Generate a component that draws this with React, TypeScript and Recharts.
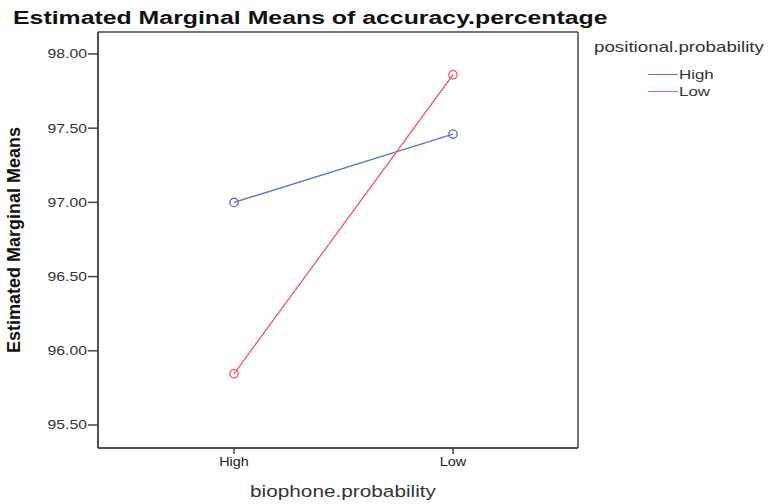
import { LineChart, Line, XAxis, YAxis, CartesianGrid } from 'recharts';

const categories = ['High', 'Low'];
const highSeries = [97.0, 97.46];
const lowSeries = [95.845, 97.86];
const yTicks = [95.5, 96.0, 96.5, 97.0, 97.5, 98.0];
const Y_DOMAIN: [number, number] = [95.345, 98.148];

const COLORS = {
  high: '#6074c4',
  low: '#ef6470',
};

const data = categories.map((c, i) => ({ name: c, High: highSeries[i], Low: lowSeries[i] }));

const FONT = '"Liberation Sans", Arial, sans-serif';

// the reference picture is stretched sideways, so horizontal text gets widened too
const YTick = (props: any) => {
  const { x, y, payload } = props;
  return (
    <text transform={`translate(${x},${y}) scale(1.26,1)`} textAnchor="end" dy="0.35em" fill="#333" fontSize={12.5} fontFamily={FONT}>
      {Number(payload.value).toFixed(2)}
    </text>
  );
};

const XTick = (props: any) => {
  const { x, y, payload } = props;
  return (
    <text transform={`translate(${x},${y}) scale(1.2,1)`} textAnchor="middle" dy="0.71em" fill="#222" fontSize={12} fontFamily={FONT}>
      {payload.value}
    </text>
  );
};

const XLabel = (props: any) => {
  const { viewBox } = props;
  const cx = viewBox.x + viewBox.width / 2 + 5;
  return (
    <text transform={`translate(${cx},${viewBox.y + 49}) scale(1.26,1)`} textAnchor="middle" fill="#333" fontSize={16.5} fontFamily={FONT}>
      biophone.probability
    </text>
  );
};

const Ring = (color: string) => (props: any) => {
  const { cx, cy } = props;
  return <circle cx={cx} cy={cy} r={4.2} fill="none" stroke={color} strokeWidth={1.4} />;
};

const legendItems = [
  { name: 'High', color: COLORS.high },
  { name: 'Low', color: COLORS.low },
];

// frame round the plot area, drawn as grid lines on its edges
const edgeRows = ({ offset }: any) => [offset.top, offset.top + offset.height];
const edgeCols = ({ offset }: any) => [offset.left, offset.left + offset.width];

export default function App() {
  return (
    <div style={{ position: 'absolute', left: 0, top: 0, width: 771, height: 504, background: '#fff' }}>
      <div
        style={{
          position: 'absolute',
          left: 13,
          top: 7.5,
          fontFamily: FONT,
          fontWeight: 'bold',
          fontSize: 18,
          color: '#111',
          whiteSpace: 'nowrap',
          transform: 'scaleX(1.38)',
          transformOrigin: 'left top',
        }}
      >
        Estimated Marginal Means of accuracy.percentage
      </div>
      <div
        style={{
          position: 'absolute',
          left: 594,
          top: 38,
          fontFamily: FONT,
          color: '#333',
          whiteSpace: 'nowrap',
          transform: 'scaleX(1.25)',
          transformOrigin: 'left top',
        }}
      >
        <div style={{ fontSize: 15, marginBottom: 11 }}>positional.probability</div>
        {legendItems.map((item) => (
          <div key={item.name} style={{ display: 'flex', alignItems: 'center', height: 17, paddingLeft: 43, fontSize: 13.5 }}>
            <span style={{ display: 'inline-block', width: 24, height: 0, borderTop: `1.5px solid ${item.color}`, marginRight: 1 }} />
            <span>{item.name}</span>
          </div>
        ))}
      </div>
      <LineChart width={771} height={504} data={data} margin={{ top: 32, right: 193, bottom: 0, left: 0 }}>
        <CartesianGrid
          stroke="#444"
          strokeWidth={1.5}
          horizontalCoordinatesGenerator={edgeRows}
          verticalCoordinatesGenerator={edgeCols}
        />
        <XAxis
          dataKey="name"
          height={56}
          padding={{ left: 136, right: 125 }}
          axisLine={{ stroke: '#444', strokeWidth: 1.5 }}
          tickLine={{ stroke: '#444', strokeWidth: 1.5 }}
          tickSize={6}
          tickMargin={3}
          tick={<XTick />}
          label={<XLabel />}
        />
        <YAxis
          width={98}
          domain={Y_DOMAIN}
          ticks={yTicks}
          allowDataOverflow
          axisLine={{ stroke: '#444', strokeWidth: 1.5 }}
          tickLine={{ stroke: '#444', strokeWidth: 1.5 }}
          tickSize={10}
          tickMargin={1}
          tick={<YTick />}
          label={{
            value: 'Estimated Marginal Means',
            angle: -90,
            position: 'insideLeft',
            offset: 14,
            style: { textAnchor: 'middle', fontWeight: 'bold', fontSize: 18, fill: '#111', fontFamily: FONT },
          }}
        />
        <Line
          type="linear"
          dataKey="High"
          stroke={COLORS.high}
          strokeWidth={1.4}
          dot={Ring(COLORS.high)}
          activeDot={false}
          isAnimationActive={false}
        />
        <Line
          type="linear"
          dataKey="Low"
          stroke={COLORS.low}
          strokeWidth={1.4}
          dot={Ring(COLORS.low)}
          activeDot={false}
          isAnimationActive={false}
        />
      </LineChart>
    </div>
  );
}
